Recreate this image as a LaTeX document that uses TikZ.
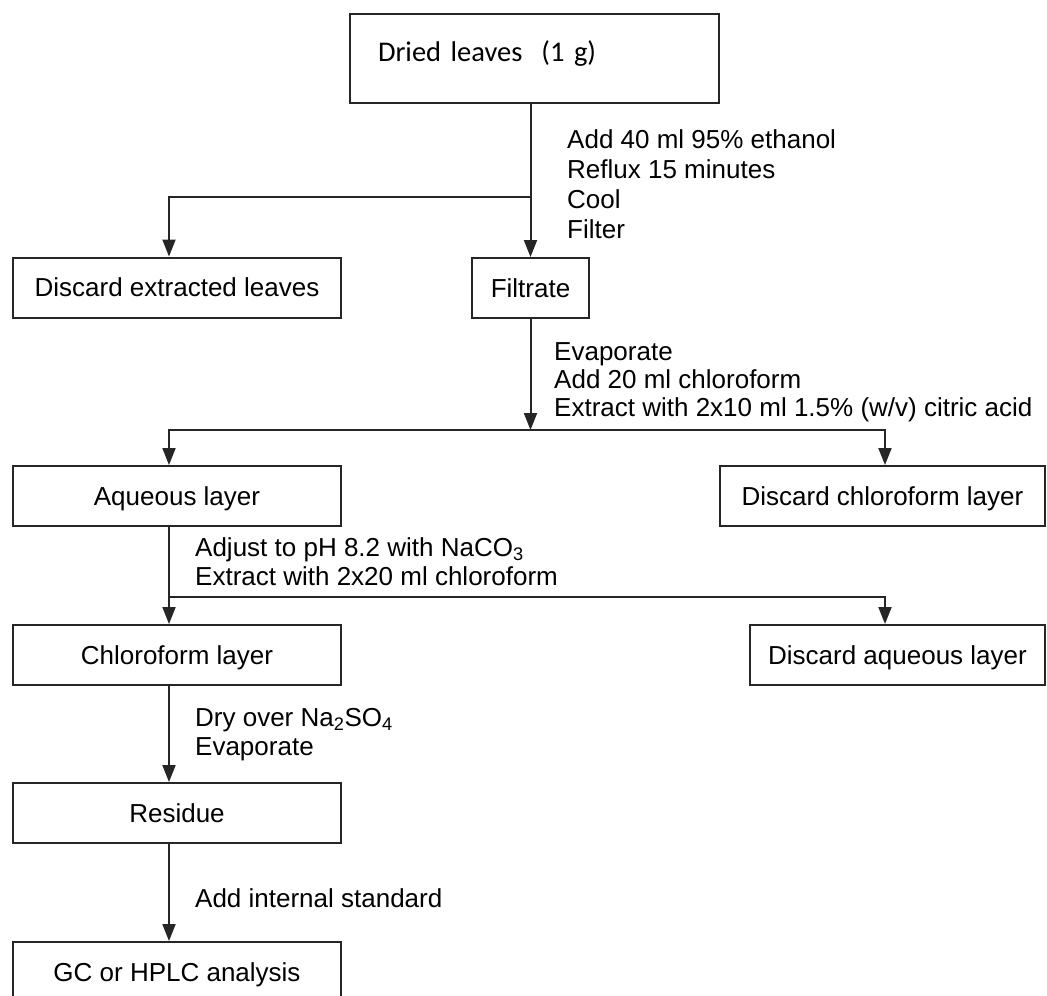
\documentclass[tikz,border=0pt]{standalone}
\usepackage{fontspec}
\setmainfont{Liberation Sans}
\newfontfamily\calibri{Carlito}
\usetikzlibrary{arrows.meta}

\begin{document}
\begin{tikzpicture}[x=1pt,y=-1pt,
  box/.style={draw=black!85,line width=2pt,minimum height=60pt,inner sep=0pt,
    text height=18.5pt,text depth=0pt,font=\fontsize{26}{30}\selectfont},
  lbl/.style={anchor=north west,inner sep=0pt,align=left,font=\fontsize{26}{29}\selectfont},
  link/.style={draw=black!85,line width=2pt},
  arr/.style={link,-{Triangle[length=17pt,width=13pt]}}]
\clip (0,0) rectangle (1047,996);

\node[box,minimum width=369pt,minimum height=89pt,text width=313pt,align=left,
  text height=18pt,text depth=13pt,font=\calibri\fontsize{28.5}{32}\selectfont] (dried) at (534.5,58.5) {Dried leaves\ \ (1 g)};
\node[box,minimum width=328pt] (leaves) at (177,287.5) {Discard extracted leaves};
\node[box,minimum width=117pt] (filtrate) at (530.5,288) {Filtrate};
\node[box,minimum width=328pt] (aqueous) at (177,496) {Aqueous layer};
\node[box,minimum width=325pt] (dchloro) at (882.5,496) {Discard chloroform layer};
\node[box,minimum width=328pt] (chloro) at (177,655) {Chloroform layer};
\node[box,minimum width=295pt] (daqueous) at (897.5,655) {Discard aqueous layer};
\node[box,minimum width=328pt] (residue) at (177,813) {Residue};
\node[box,minimum width=328pt] (gc) at (177,972) {GC or HPLC analysis};

\coordinate (lcol) at (169,0);
\coordinate (spine) at (530.5,0);
\coordinate (rcol) at (885,0);
\coordinate (fork1) at (530.5,197);
\coordinate (fork2) at (530.5,430);
\coordinate (fork3) at (169,597);

\draw[arr] (dried.south -| spine) -- (filtrate.north);
\draw[arr] (fork1) -| (leaves.north -| lcol);
\draw[arr] (filtrate.south) -- (fork2);
\draw[arr] (fork2) -| (aqueous.north -| lcol);
\draw[arr] (fork2) -| (dchloro.north -| rcol);
\draw[arr] (aqueous.south -| lcol) -- (chloro.north -| lcol);
\draw[arr] (fork3) -| (daqueous.north -| rcol);
\draw[arr] (chloro.south -| lcol) -- (residue.north -| lcol);
\draw[arr] (residue.south -| lcol) -- (gc.north -| lcol);

\node[lbl,font=\fontsize{26}{30}\selectfont] (reflux) at (567,129) {Add 40 ml 95\% ethanol\\Reflux 15 minutes\\Cool\\Filter};
\node[lbl,font=\fontsize{26}{28}\selectfont] (extract) at (554,342) {Evaporate\\Add 20 ml chloroform\\Extract with 2x10 ml 1.5\% (w/v) citric acid};
\node[lbl] (adjust) at (195,537) {Adjust to pH 8.2 with NaCO\textsubscript{3}\\Extract with 2x20 ml chloroform};
\node[lbl] (dry) at (195,708) {Dry over Na\textsubscript{2}SO\textsubscript{4}\\Evaporate};
\node[lbl] (standard) at (195,888) {Add internal standard};
\end{tikzpicture}
\end{document}
